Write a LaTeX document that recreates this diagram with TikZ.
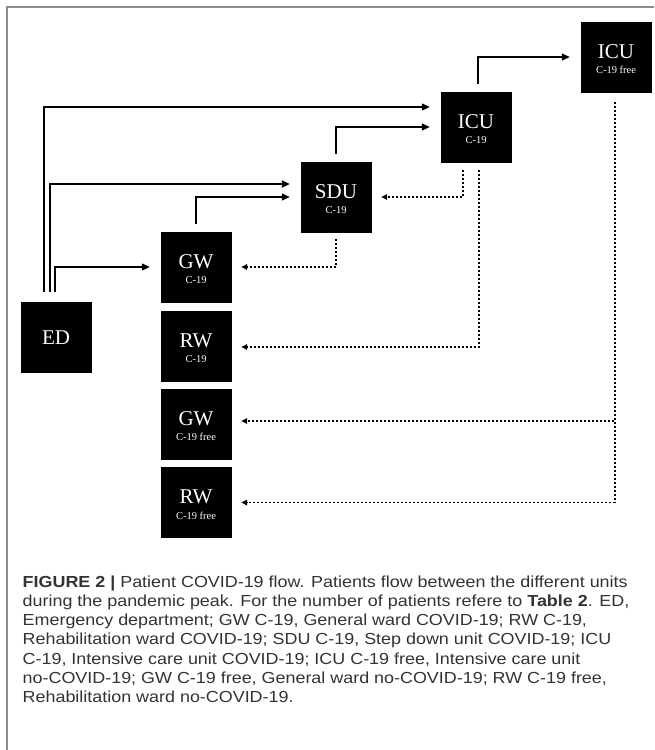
\documentclass[tikz,border=0pt]{standalone}
\usepackage{fontspec}
\setmainfont{Liberation Serif}
\newfontfamily\capfont[FakeStretch=1.12]{Liberation Sans}
\usetikzlibrary{arrows.meta,calc}
\tikzset{
  ubox/.style={draw=black,fill=black,minimum width=70pt,minimum height=70pt,inner sep=0pt},
  mainlab/.style={text=white,inner sep=0pt,font=\fontsize{21}{21}\selectfont},
  sublab/.style={text=white,inner sep=0pt,font=\fontsize{10.5}{10.5}\selectfont},
  flow/.style={line width=1.3pt,-{Triangle[length=8pt,width=7pt]},shorten >=11pt},
  thickflow/.style={flow,line width=2.2pt},
  back/.style={line width=1.6pt,dash pattern=on 2.2pt off 1.8pt,-{Triangle[length=6pt,width=5.5pt]},shorten >=10pt},
  capline/.style={anchor=base west,inner sep=0pt,text=black!80,font=\capfont\fontsize{16}{16}\selectfont},
  frameline/.style={draw=black!45,line width=1.2pt}
}
\newcommand\unitbox[5]{%
  \node[ubox] (#1) at (#2,#3) {};
  \node[mainlab,anchor=base] (#1m) at (#2,#3+1) {#4};
  \node[sublab,anchor=base] (#1s) at (#2,#3+16.5) {#5};}
\begin{document}
\begin{tikzpicture}[x=1pt,y=-1pt]
\useasboundingbox (0,0) rectangle (654,750);
\fill[white] (0,0) rectangle (654,750);
\draw[frameline] (7,750) -- (7,7) -- (654,7);
% boxes
\node[ubox] (ed) at (56,337) {};
\node[mainlab,anchor=base] (edm) at (56,344.5) {ED};
\unitbox{gw}{196}{267}{GW}{C-19}
\unitbox{rw}{196}{346}{RW}{C-19}
\unitbox{gwf}{196}{424}{GW}{C-19 free}
\unitbox{rwf}{196}{502.5}{RW}{C-19 free}
\unitbox{sdu}{336}{197}{SDU}{C-19}
\unitbox{icu}{476}{127}{ICU}{C-19}
\unitbox{icuf}{616}{57}{ICU}{C-19 free}
% forward flows
\draw[flow] ($(ed.north)+(-12,-10)$) |- ($(icu.west)+(0,-20)$);
\draw[thickflow] ($(ed.north)+(-6,-10)$) |- ($(sdu.west)+(0,-13)$);
\draw[flow] ($(ed.north)+(-1,-10)$) |- (gw.west);
\draw[flow] ($(gw.north)+(0,-8)$) |- (sdu.west);
\draw[flow] ($(sdu.north)+(0,-8)$) |- (icu.west);
\draw[flow] ($(icu.north)+(2,-8)$) |- (icuf.west);
% backward flows
\draw[back] ($(icu.south)+(-13,8)$) |- (sdu.east);
\draw[back] ($(icu.south)+(3,8)$) |- ($(rw.east)+(0,1)$);
\draw[back] ($(sdu.south)+(0,7)$) |- (gw.east);
\draw[back] ($(icuf.south)+(-1,10)$) |- ($(gwf.east)+(0,-3)$);
\draw[back] ($(icuf.south)+(-1,10)$) |- (rwf.east);
% caption
\node[capline] (c1) at (22.5,587) {\textbf{FIGURE 2 |} Patient COVID-19 flow. Patients flow between the different units};
\node[capline] (c2) at (22.5,606) {during the pandemic peak. For the number of patients refere to \textbf{Table 2}. ED,};
\node[capline] (c3) at (22.5,625.5) {Emergency department; GW C-19, General ward COVID-19; RW C-19,};
\node[capline] (c4) at (22.5,644.5) {Rehabilitation ward COVID-19; SDU C-19, Step down unit COVID-19; ICU};
\node[capline] (c5) at (22.5,664) {C-19, Intensive care unit COVID-19; ICU C-19 free, Intensive care unit};
\node[capline] (c6) at (22.5,683) {no-COVID-19; GW C-19 free, General ward no-COVID-19; RW C-19 free,};
\node[capline] (c7) at (22.5,702) {Rehabilitation ward no-COVID-19.};
\end{tikzpicture}
\end{document}
